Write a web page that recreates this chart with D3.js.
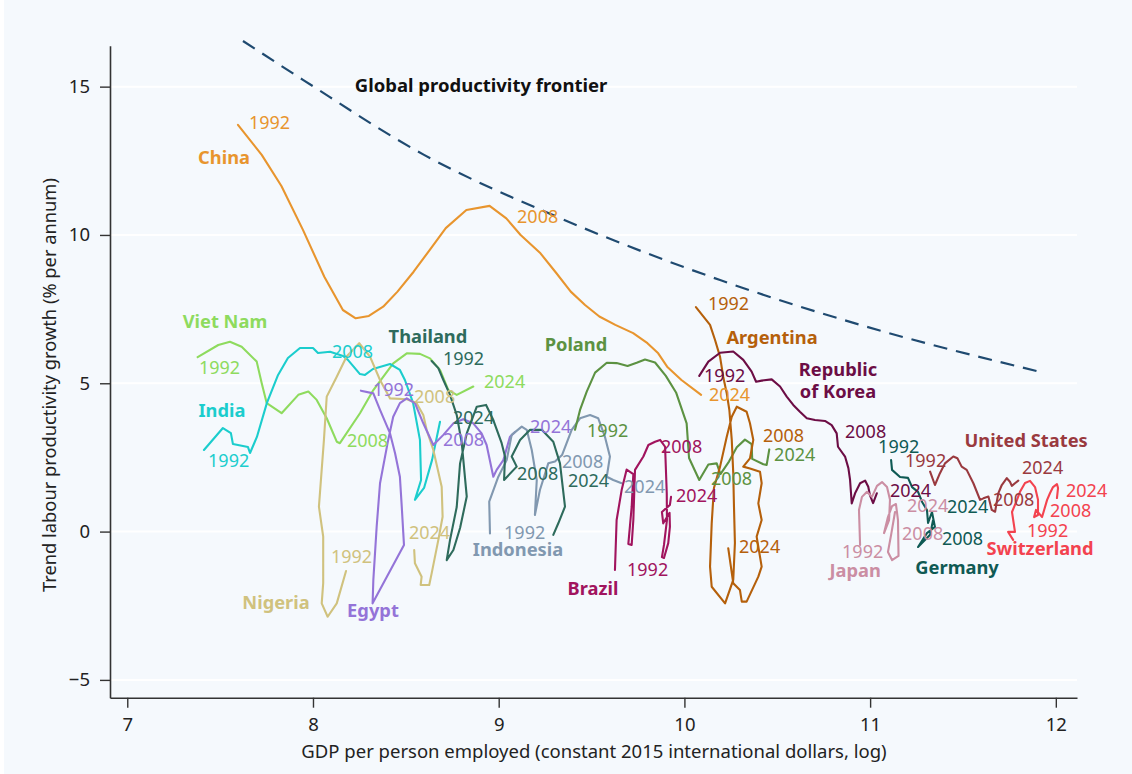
<!DOCTYPE html>
<html>
<head>
<meta charset="utf-8">
<script src="https://cdn.jsdelivr.net/npm/d3@7"></script>
<style>
  html, body { margin: 0; padding: 0; background: #ffffff; }
  svg { display: block; font-family: "Noto Sans", "Open Sans", sans-serif; }
</style>
</head>
<body>
<svg id="chart" width="1132" height="774"></svg>
<script>
// Trajectories: [log GDP per person employed, trend labour productivity growth %]
const china = [[7.596,13.71],[7.724,12.70],[7.830,11.65],[7.946,10.17],[8.061,8.59],[8.161,7.47],[8.230,7.19],[8.301,7.27],[8.378,7.58],[8.455,8.09],[8.542,8.76],[8.628,9.49],[8.715,10.23],[8.826,10.84],[8.951,10.98],[9.041,10.56],[9.118,10.00],[9.225,9.38],[9.311,8.71],[9.388,8.09],[9.465,7.64],[9.542,7.25],[9.628,6.97],[9.724,6.69],[9.801,6.35],[9.859,6.01],[9.907,5.56],[9.984,5.11],[10.090,4.61]];
const vietNam = [[7.379,5.88],[7.490,6.29],[7.553,6.40],[7.616,6.23],[7.697,5.73],[7.724,5.00],[7.751,4.33],[7.831,3.99],[7.921,4.61],[7.975,4.72],[8.020,4.44],[8.074,3.82],[8.128,3.03],[8.145,2.98],[8.253,3.99],[8.325,4.77],[8.432,5.67],[8.505,6.01],[8.576,5.99],[8.630,5.84],[8.684,5.45],[8.729,4.77],[8.774,4.61],[8.863,4.89]];
const india = [[7.413,2.75],[7.515,3.49],[7.558,3.32],[7.569,2.95],[7.650,2.85],[7.661,2.65],[7.698,3.19],[7.752,4.34],[7.812,5.28],[7.865,5.85],[7.930,6.19],[8.000,6.19],[8.027,6.02],[8.092,6.06],[8.162,5.92],[8.188,5.79],[8.253,5.31],[8.280,5.28],[8.323,5.48],[8.415,5.65],[8.468,5.45],[8.495,5.11],[8.539,4.34],[8.576,3.09],[8.582,1.74],[8.549,1.07],[8.598,1.47],[8.641,2.41],[8.684,3.70]];
const thailand = [[8.639,5.75],[8.675,5.51],[8.702,5.11],[8.738,4.61],[8.774,3.93],[8.801,2.99],[8.828,1.18],[8.792,0.12],[8.756,-0.62],[8.720,-0.96],[8.738,-0.28],[8.774,0.83],[8.792,2.30],[8.828,3.31],[8.882,4.21],[8.932,4.27],[8.971,3.76],[9.016,2.98],[9.034,2.53],[9.029,1.74],[9.097,2.19],[9.070,2.53],[9.115,3.09],[9.169,3.43],[9.232,3.43],[9.294,3.03],[9.330,2.30],[9.357,0.84],[9.321,0.28],[9.294,-0.11]];
const nigeria = [[8.178,-1.33],[8.128,-2.42],[8.079,-2.87],[8.047,-2.42],[8.055,-1.74],[8.055,-0.17],[8.032,0.84],[8.059,3.09],[8.074,4.55],[8.128,5.22],[8.181,5.90],[8.249,6.35],[8.307,5.90],[8.361,5.11],[8.415,4.49],[8.505,4.46],[8.558,4.33],[8.594,3.93],[8.612,3.43],[8.648,2.75],[8.693,1.51],[8.698,0.50],[8.675,-0.28],[8.639,-1.41],[8.626,-1.80],[8.580,-1.80],[8.585,-1.52],[8.549,-1.07],[8.545,-0.62]];
const egypt = [[8.258,4.75],[8.325,4.66],[8.361,4.10],[8.415,3.31],[8.442,2.64],[8.468,1.85],[8.478,0.84],[8.490,-0.45],[8.321,-2.42],[8.325,-1.63],[8.343,0.17],[8.361,1.63],[8.405,3.09],[8.432,3.87],[8.468,4.33],[8.505,4.49],[8.549,4.33],[8.594,3.65],[8.648,2.92],[8.702,3.26],[8.756,3.65],[8.809,3.79],[8.863,3.65],[8.908,3.31],[8.935,2.92],[8.971,1.85],[8.989,2.08],[9.025,2.41],[9.061,3.20],[9.088,3.36]];
const indonesia = [[8.953,-0.06],[8.949,1.01],[8.998,1.85],[9.043,2.41],[9.070,3.26],[9.124,3.54],[9.151,3.43],[9.178,2.75],[9.205,1.74],[9.195,0.56],[9.222,1.40],[9.267,2.30],[9.303,2.36],[9.341,2.58],[9.393,3.43],[9.438,3.82],[9.492,3.93],[9.536,3.82],[9.572,3.20],[9.599,2.53],[9.582,1.85],[9.617,1.74],[9.662,1.63]];
const poland = [[9.411,3.43],[9.438,4.10],[9.474,4.72],[9.519,5.36],[9.582,5.69],[9.635,5.68],[9.694,5.58],[9.743,5.69],[9.788,5.80],[9.842,5.70],[9.900,5.25],[9.955,4.69],[10.012,3.65],[10.025,2.48],[10.080,1.74],[10.129,2.26],[10.174,2.30],[10.194,1.94],[10.240,2.36],[10.282,2.84],[10.326,3.10],[10.362,2.95],[10.365,2.45],[10.425,2.27],[10.443,2.25],[10.457,2.77]];
const brazil = [[9.626,-1.29],[9.635,0.39],[9.662,1.40],[9.689,2.09],[9.725,1.94],[9.716,0.83],[9.698,-0.42],[9.716,-0.45],[9.725,0.39],[9.734,2.08],[9.779,2.53],[9.806,2.92],[9.842,3.03],[9.869,3.09],[9.896,2.86],[9.905,1.29],[9.906,0.39],[9.890,-0.45],[9.879,-0.86],[9.890,-0.89],[9.913,-0.39],[9.922,0.17],[9.920,0.63],[9.886,0.28],[9.879,0.66],[9.922,0.90],[9.928,1.17]];
const argentina = [[10.062,7.57],[10.138,6.97],[10.165,6.46],[10.192,5.89],[10.209,5.22],[10.228,4.66],[10.242,4.10],[10.255,3.09],[10.263,1.97],[10.267,0.83],[10.272,-0.38],[10.263,-1.63],[10.219,-2.42],[10.147,-1.86],[10.138,-1.18],[10.147,0.28],[10.159,1.47],[10.192,2.19],[10.228,3.20],[10.255,3.87],[10.282,4.21],[10.335,4.04],[10.353,3.65],[10.371,3.09],[10.353,2.47],[10.317,2.19],[10.353,2.13],[10.407,2.02],[10.416,1.63],[10.398,0.95],[10.416,0.39],[10.389,-0.17],[10.416,-1.18],[10.398,-1.52],[10.335,-2.36],[10.309,-2.36],[10.299,-1.97],[10.263,-1.74],[10.236,-0.56]];
const korea = [[10.080,5.25],[10.129,5.73],[10.192,6.03],[10.263,6.07],[10.317,5.79],[10.362,5.39],[10.386,5.05],[10.416,5.09],[10.470,5.13],[10.515,4.89],[10.551,4.55],[10.586,4.27],[10.622,4.04],[10.659,3.82],[10.703,3.76],[10.757,3.73],[10.793,3.59],[10.820,3.31],[10.827,2.86],[10.865,2.53],[10.883,2.14],[10.892,1.74],[10.901,0.95],[10.919,1.29],[10.946,1.63],[10.973,1.72],[10.990,1.51],[10.999,1.23],[11.016,0.96],[11.036,1.29]];
const japan = [[10.946,-0.45],[10.940,0.73],[10.956,1.17],[10.983,1.34],[11.010,1.17],[11.037,1.54],[11.064,1.67],[11.091,1.50],[11.107,1.07],[11.102,0.39],[11.075,-0.05],[11.096,0.49],[11.118,0.86],[11.139,0.93],[11.150,0.39],[11.153,-0.82],[11.118,-0.96],[11.096,-0.69],[11.113,-0.11],[11.134,0.66]];
const germany = [[11.113,2.41],[11.118,2.08],[11.161,1.84],[11.204,1.81],[11.226,1.50],[11.258,1.34],[11.280,1.00],[11.306,0.73],[11.312,0.29],[11.333,0.66],[11.349,0.16],[11.306,-0.05],[11.258,-0.52],[11.323,-0.11],[11.339,0.39]];
const unitedStates = [[11.323,2.02],[11.349,1.57],[11.376,1.97],[11.403,2.30],[11.448,2.53],[11.470,2.47],[11.493,2.19],[11.520,2.08],[11.556,1.63],[11.592,1.07],[11.610,1.12],[11.637,1.18],[11.655,0.73],[11.673,0.67],[11.690,1.29],[11.709,1.57],[11.736,1.80],[11.753,1.68],[11.763,1.54],[11.780,1.63],[11.798,1.72]];
const switzerland = [[11.770,-0.28],[11.743,-0.01],[11.780,-0.01],[11.764,0.66],[11.791,1.07],[11.807,1.34],[11.834,1.64],[11.861,1.71],[11.888,1.50],[11.904,1.07],[11.904,0.56],[11.883,0.49],[11.893,0.73],[11.926,0.49],[11.953,1.07],[11.969,1.30],[11.985,1.50],[12.006,1.60],[12.012,1.47],[12.006,1.13]];

// Global productivity frontier
const frontier = [[7.623,16.54],[7.946,15.23],[8.598,12.70],[9.311,10.62],[10.192,8.48],[10.946,6.97],[11.931,5.36]];

// Year markers: [year, x, y] for the label anchor
const chinaYears = [[1992,7.655,13.74],[2008,9.099,10.57],[2024,10.132,4.57]];
const vietNamYears = [[1992,7.386,5.48],[2008,8.183,3.02],[2024,8.921,5.01]];
const indiaYears = [[1992,7.435,2.35],[2008,8.102,6.02]];
const thailandYears = [[1992,8.700,5.79],[2008,9.099,1.91],[2024,8.754,3.80],[2024,9.373,1.67]];
const nigeriaYears = [[1992,8.097,-0.89],[2008,8.544,4.50],[2024,8.517,-0.08]];
const egyptYears = [[1992,8.323,4.74],[2008,8.700,3.05],[2024,9.169,3.49]];
const indonesiaYears = [[1992,9.029,-0.08],[2008,9.341,2.31],[2024,9.675,1.47]];
const polandYears = [[1992,9.476,3.36],[2008,10.143,1.74],[2024,10.483,2.55]];
const brazilYears = [[1992,9.691,-1.33],[2008,9.874,2.82],[2024,9.955,1.17]];
const argentinaYears = [[1992,10.127,7.64],[2008,10.423,3.19],[2024,10.294,-0.55]];
const koreaYears = [[1992,10.106,5.21],[2008,10.865,3.32],[2024,11.107,1.34]];
const japanYears = [[1992,10.849,-0.72],[2008,11.172,-0.11],[2024,11.199,0.83]];
const germanyYears = [[1992,11.043,2.82],[2008,11.387,-0.28],[2024,11.414,0.80]];
const unitedStatesYears = [[1992,11.188,2.35],[2008,11.662,1.03],[2024,11.818,2.11]];
const switzerlandYears = [[1992,11.845,-0.01],[2008,11.969,0.66],[2024,12.055,1.34]];

// Country name anchors (centre of the text): [x, y]
const nameAnchors = {
  "China": [7.521,12.56], "Viet Nam": [7.526,7.03], "India": [7.510,4.03],
  "Thailand": [8.619,6.53], "Nigeria": [7.801,-2.44], "Egypt": [8.323,-2.71],
  "Indonesia": [9.104,-0.65], "Poland": [9.416,6.26], "Brazil": [9.508,-1.97],
  "Argentina": [10.472,6.49], "Republic of Korea": [10.827,5.41], "Japan": [10.919,-1.36],
  "Germany": [11.468,-1.26], "United States": [11.840,3.02], "Switzerland": [11.915,-0.62]
};
const frontierLabel = [8.905,14.99];

const yTicks = [-5, 0, 5, 10, 15];
const xTicks = [7, 8, 9, 10, 11, 12];

const countries = [
  { name: "China", pts: china, years: chinaYears, color: "#e8952e" },
  { name: "Viet Nam", pts: vietNam, years: vietNamYears, color: "#8edb5e" },
  { name: "India", pts: india, years: indiaYears, color: "#1bcdcd" },
  { name: "Nigeria", pts: nigeria, years: nigeriaYears, color: "#d0c27e" },
  { name: "Egypt", pts: egypt, years: egyptYears, color: "#9474d8" },
  { name: "Indonesia", pts: indonesia, years: indonesiaYears, color: "#8198b0" },
  { name: "Thailand", pts: thailand, years: thailandYears, color: "#2e6b5c" },
  { name: "Poland", pts: poland, years: polandYears, color: "#5c9242" },
  { name: "Brazil", pts: brazil, years: brazilYears, color: "#a1145e" },
  { name: "Argentina", pts: argentina, years: argentinaYears, color: "#b5600b" },
  { name: "Republic of Korea", pts: korea, years: koreaYears, color: "#6c0d45" },
  { name: "Japan", pts: japan, years: japanYears, color: "#cb8ea3" },
  { name: "Germany", pts: germany, years: germanyYears, color: "#0f5a54" },
  { name: "United States", pts: unitedStates, years: unitedStatesYears, color: "#9a3a3f" },
  { name: "Switzerland", pts: switzerland, years: switzerlandYears, color: "#f3434f" }
];

const svg = d3.select("#chart");
const W = 1132, H = 774;
const plot = { left: 110, right: 1077, top: 45.7, bottom: 697.7 };

svg.append("rect").attr("x", 4).attr("y", 0).attr("width", W - 4).attr("height", H)
  .attr("fill", "#f5f9fd");

const x = d3.scaleLinear().domain([6.907, 12.114]).range([plot.left, plot.right]);
const y = d3.scaleLinear().domain([-5.6, 16.38]).range([plot.bottom, plot.top]);

// horizontal grid
svg.append("g").selectAll("line").data(yTicks).join("line")
  .attr("x1", plot.left).attr("x2", plot.right)
  .attr("y1", d => y(d)).attr("y2", d => y(d))
  .attr("stroke", "#ffffff").attr("stroke-width", 2);

// axes
const yAxis = svg.append("g").attr("transform", `translate(${plot.left},0)`)
  .call(d3.axisLeft(y).tickValues(yTicks).tickSizeInner(10).tickSizeOuter(0).tickPadding(10)
    .tickFormat(d => d < 0 ? "\u2212" + Math.abs(d) : d));
const xAxis = svg.append("g").attr("transform", `translate(0,${plot.bottom})`)
  .call(d3.axisBottom(x).tickValues(xTicks).tickSizeInner(10).tickSizeOuter(0).tickPadding(10)
    .tickFormat(d3.format("d")));
[yAxis, xAxis].forEach(g => {
  g.select(".domain").attr("stroke", "#333333").attr("stroke-width", 1.6);
  g.selectAll(".tick line").attr("stroke", "#333333").attr("stroke-width", 1.4);
  g.selectAll(".tick text").attr("fill", "#222222").style("font-size", "18.5px")
    .style("font-family", "'Noto Sans', sans-serif");
});

svg.append("text")
  .attr("transform", `translate(51,385) rotate(-90)`)
  .attr("text-anchor", "middle").attr("dominant-baseline", "middle")
  .attr("fill", "#222222").style("font-size", "18.3px")
  .text("Trend labour productivity growth (% per annum)");

svg.append("text")
  .attr("x", 594).attr("y", 753)
  .attr("text-anchor", "middle").attr("dominant-baseline", "middle")
  .attr("fill", "#222222").style("font-size", "18.5px")
  .text("GDP per person employed (constant 2015 international dollars, log)");

// frontier
const frontierLine = d3.line().x(d => x(d[0])).y(d => y(d[1])).curve(d3.curveMonotoneX);
svg.append("path").datum(frontier)
  .attr("d", frontierLine)
  .attr("fill", "none").attr("stroke", "#1f4a70").attr("stroke-width", 2.2)
  .attr("stroke-dasharray", "14,9");
svg.append("text")
  .attr("x", x(frontierLabel[0])).attr("y", y(frontierLabel[1]))
  .attr("text-anchor", "middle").attr("dominant-baseline", "middle")
  .attr("fill", "#111111").style("font-size", "18.5px").style("font-weight", 700)
  .text("Global productivity frontier");

// country trajectories
const path = d3.line().x(d => x(d[0])).y(d => y(d[1]));
const gLines = svg.append("g");
countries.forEach(c => {
  gLines.append("path").datum(c.pts)
    .attr("d", path)
    .attr("fill", "none").attr("stroke", c.color).attr("stroke-width", 2.1)
    .attr("stroke-linejoin", "round").attr("stroke-linecap", "round");
});

// year labels
const gYears = svg.append("g");
countries.forEach(c => {
  gYears.selectAll(null).data(c.years).join("text")
    .attr("x", d => x(d[1])).attr("y", d => y(d[2]))
    .attr("dominant-baseline", "middle")
    .attr("fill", c.color).style("font-size", "18px")
    .text(d => d[0]);
});

// country names
const gNames = svg.append("g");
countries.forEach(c => {
  const a = nameAnchors[c.name];
  const t = gNames.append("text")
    .attr("x", x(a[0])).attr("y", y(a[1]))
    .attr("text-anchor", "middle").attr("dominant-baseline", "middle")
    .attr("fill", c.color).style("font-size", "18.3px").style("font-weight", 700);
  if (c.name === "Republic of Korea") {
    t.append("tspan").attr("x", x(a[0])).text("Republic");
    t.append("tspan").attr("x", x(a[0])).attr("dy", 22).text("of Korea");
  } else {
    t.text(c.name);
  }
});
</script>
</body>
</html>
